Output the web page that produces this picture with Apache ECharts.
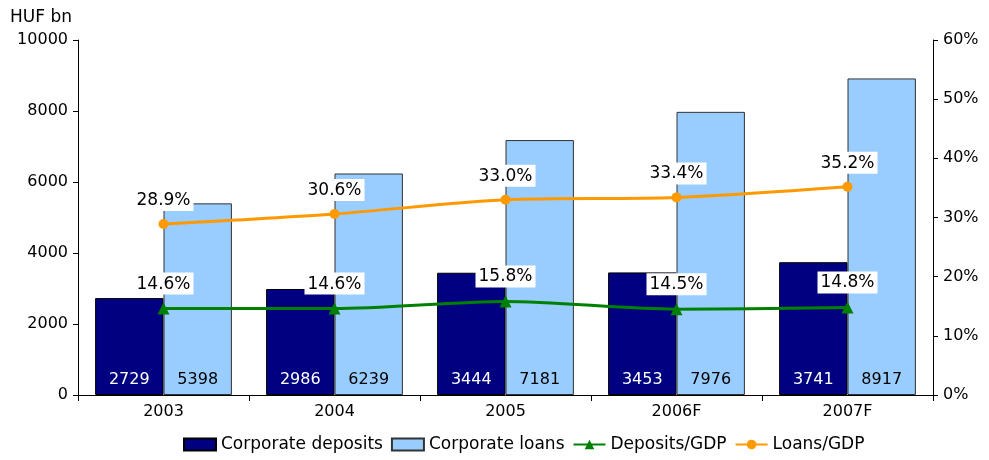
<!DOCTYPE html>
<html><head><meta charset="utf-8">
<script src="https://cdn.jsdelivr.net/npm/echarts@6/dist/echarts.min.js"></script>
<style>html,body{margin:0;padding:0;background:#fff}#c{width:989px;height:460px}</style>
</head><body><div id="c"></div>
<script>
const categories = ['2003','2004','2005','2006F','2007F'];
const deposits = [2729, 2986, 3444, 3453, 3741];
const loans = [5398, 6239, 7181, 7976, 8917];
const depositsGDP = [14.6, 14.6, 15.8, 14.5, 14.8];
const loansGDP = [28.9, 30.6, 33.0, 33.4, 35.2];
const leftTicks = [0, 10000, 2000];
const rightTicks = [0, 60, 10];

const FONT = 'DejaVu Sans';
const chart = echarts.init(document.getElementById('c'));
const lineLabel = {
  show: true, position: 'top', distance: 8,
  formatter: p => p.value.toFixed(1) + '%',
  backgroundColor: '#fff', padding: [3, 3, 2, 3],
  color: '#000', fontFamily: FONT, fontSize: 17
};
chart.setOption({
  animation: false,
  textStyle: { fontFamily: FONT },
  grid: { left: 78, right: 56, top: 40, bottom: 65 },
  legend: {
    bottom: 2, left: 178, itemGap: 8, itemWidth: 32, itemHeight: 12,
    textStyle: { fontFamily: FONT, fontSize: 17, color: '#000' },
    data: [
      { name: 'Corporate deposits', icon: 'rect' },
      { name: 'Corporate loans', icon: 'rect' },
      { name: 'Deposits/GDP' },
      { name: 'Loans/GDP' }
    ]
  },
  xAxis: {
    type: 'category', data: categories,
    axisLine: { lineStyle: { color: '#000' } },
    axisTick: { show: true, length: 6, lineStyle: { color: '#000' } },
    axisLabel: { color: '#000', fontSize: 16, fontFamily: FONT, margin: 9 }
  },
  yAxis: [
    {
      type: 'value', min: leftTicks[0], max: leftTicks[1], interval: leftTicks[2],
      name: 'HUF bn', nameLocation: 'end', nameGap: 14,
      nameTextStyle: { color: '#000', fontSize: 17, fontFamily: FONT, align: 'left', padding: [0, 0, 0, -68] },
      axisLine: { show: true, lineStyle: { color: '#000' } },
      axisTick: { show: true, length: 5, lineStyle: { color: '#000' } },
      axisLabel: { color: '#000', fontSize: 16, fontFamily: FONT, margin: 10, formatter: v => String(v) },
      splitLine: { show: false }
    },
    {
      type: 'value', min: rightTicks[0], max: rightTicks[1], interval: rightTicks[2],
      position: 'right',
      axisLine: { show: true, lineStyle: { color: '#000' } },
      axisTick: { show: true, length: 5, lineStyle: { color: '#000' } },
      axisLabel: { color: '#000', fontSize: 16, fontFamily: FONT, margin: 10, formatter: '{value}%' },
      splitLine: { show: false }
    }
  ],
  series: [
    {
      name: 'Corporate deposits', type: 'bar', data: deposits, barGap: '0%', barCategoryGap: '20%',
      itemStyle: { color: '#000080', borderColor: '#000', borderWidth: 1 },
      label: { show: true, position: 'insideBottom', distance: 7, color: '#fff', fontSize: 16, fontFamily: FONT }
    },
    {
      name: 'Corporate loans', type: 'bar', data: loans,
      itemStyle: { color: '#99CCFF', borderColor: '#333', borderWidth: 1 },
      label: { show: true, position: 'insideBottom', distance: 7, color: '#000', fontSize: 16, fontFamily: FONT }
    },
    {
      name: 'Deposits/GDP', type: 'line', yAxisIndex: 1, data: depositsGDP, smooth: 0.3,
      symbol: 'triangle', symbolSize: 12,
      lineStyle: { color: '#008000', width: 3 }, itemStyle: { color: '#008000' },
      label: lineLabel, z: 5
    },
    {
      name: 'Loans/GDP', type: 'line', yAxisIndex: 1, data: loansGDP, smooth: 0.3,
      symbol: 'circle', symbolSize: 10,
      lineStyle: { color: '#FF9900', width: 3 }, itemStyle: { color: '#FF9900' },
      label: lineLabel, z: 5
    }
  ]
});
</script></body></html>
